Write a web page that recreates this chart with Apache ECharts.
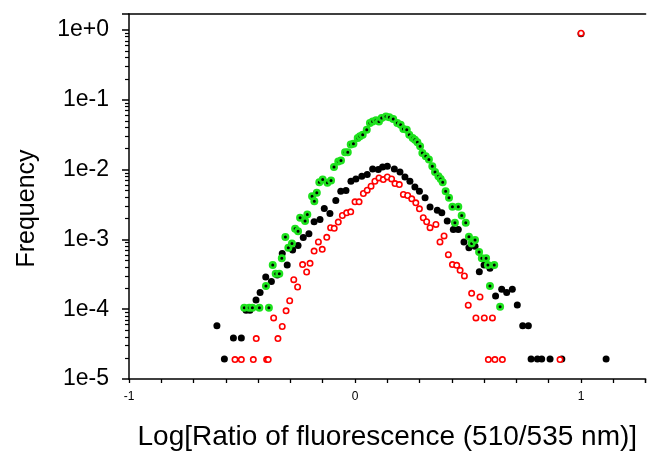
<!DOCTYPE html>
<html>
<head>
<meta charset="utf-8">
<script src="https://cdn.jsdelivr.net/npm/echarts@6/dist/echarts.min.js"></script>
<style>html,body{margin:0;padding:0;background:#fff;}#c{width:648px;height:454px;}</style>
</head>
<body>
<div id="c"></div>
<script>
// ---- data (x = log ratio, y = frequency) ----
const blackX = [-0.611,-0.578,-0.538,-0.503,-0.482,-0.465,-0.438,-0.420,-0.395,-0.370,-0.344,-0.322,-0.300,-0.276,-0.252,-0.229,-0.204,-0.181,-0.155,-0.136,-0.111,-0.085,-0.063,-0.040,-0.018,0.004,0.030,0.054,0.078,0.103,0.122,0.143,0.174,0.199,0.221,0.243,0.265,0.285,0.310,0.332,0.364,0.384,0.408,0.435,0.457,0.482,0.504,0.531,0.550,0.571,0.597,0.622,0.649,0.671,0.696,0.718,0.742,0.767,0.779,0.807,0.826,0.863,0.915,1.000,1.111];
const blackY = [5.8e-5,1.93e-5,3.86e-5,3.86e-5,9.65e-5,9.65e-5,1.35e-4,1.73e-4,2.9e-4,2.5e-4,3.1e-4,6.3e-4,4.3e-4,7.05e-4,8.2e-4,1.06e-3,1.2e-3,1.79e-3,1.93e-3,2.77e-3,2.35e-3,3.6e-3,4.9e-3,5.0e-3,6.8e-3,7.35e-3,8.0e-3,8.5e-3,1.02e-2,1.0e-2,1.09e-2,1.12e-2,1.02e-2,9.2e-3,7.85e-3,6.8e-3,5.65e-3,4.9e-3,3.94e-3,2.9e-3,2.62e-3,2.4e-3,1.83e-3,1.39e-3,1.39e-3,9.2e-4,7.6e-4,8.0e-4,3.45e-4,4.3e-4,3.85e-4,1.55e-4,1.93e-4,1.73e-4,1.93e-4,1.15e-4,5.8e-5,5.8e-5,1.93e-5,1.93e-5,1.93e-5,1.93e-5,1.93e-5,0.88,1.93e-5];

const greenX = [-0.490,-0.468,-0.454,-0.423,-0.394,-0.381,-0.364,-0.351,-0.335,-0.324,-0.308,-0.295,-0.279,-0.265,-0.252,-0.243,-0.221,-0.211,-0.190,-0.180,-0.169,-0.158,-0.143,-0.122,-0.106,-0.093,-0.074,-0.062,-0.044,-0.032,-0.019,-0.007,0.012,0.022,0.034,0.052,0.066,0.078,0.093,0.106,0.118,0.137,0.152,0.169,0.187,0.202,0.214,0.229,0.240,0.255,0.265,0.276,0.288,0.298,0.313,0.327,0.342,0.354,0.369,0.379,0.388,0.401,0.416,0.431,0.442,0.457,0.472,0.490,0.504,0.516,0.531,0.549,0.561,0.580,0.588,0.597,0.616,0.642];
const greenY = [1.05e-4,1.05e-4,1.05e-4,1.05e-4,2.15e-4,1.05e-4,4.3e-4,3.23e-4,3.23e-4,5.35e-4,1.08e-3,7.6e-4,8.7e-4,1.42e-3,1.31e-3,2.04e-3,1.83e-3,2.28e-3,4.15e-3,3.53e-3,4.64e-3,6.6e-3,7.2e-3,6.45e-3,6.97e-3,1.09e-2,1.3e-2,1.35e-2,1.77e-2,1.77e-2,2.28e-2,2.35e-2,2.83e-2,2.99e-2,3.16e-2,3.73e-2,4.64e-2,4.9e-2,5.07e-2,4.9e-2,5.47e-2,5.78e-2,5.6e-2,5.3e-2,4.64e-2,4.4e-2,3.81e-2,3.73e-2,3.16e-2,2.83e-2,2.68e-2,2.46e-2,2.15e-2,1.73e-2,1.55e-2,1.39e-2,1.12e-2,9.2e-3,8.0e-3,7.35e-3,6.6e-3,4.9e-3,3.94e-3,2.93e-3,1.73e-3,2.93e-3,2.2e-3,1.73e-3,1.09e-3,8.7e-4,9.77e-4,6.6e-4,5.35e-4,5.35e-4,4.3e-4,2.15e-4,4.3e-4,1.08e-4];

const redX = [-0.531,-0.503,-0.450,-0.437,-0.391,-0.384,-0.360,-0.341,-0.322,-0.305,-0.289,-0.271,-0.254,-0.232,-0.214,-0.199,-0.181,-0.162,-0.145,-0.125,-0.108,-0.092,-0.074,-0.056,-0.037,-0.019,0.000,0.018,0.037,0.054,0.071,0.088,0.106,0.125,0.143,0.162,0.177,0.196,0.214,0.233,0.251,0.269,0.285,0.302,0.317,0.332,0.358,0.376,0.394,0.413,0.431,0.450,0.465,0.484,0.501,0.516,0.535,0.553,0.572,0.590,0.608,0.619,0.652,0.907,1.000];
const redY = [1.9e-5,1.9e-5,1.9e-5,3.8e-5,1.9e-5,1.9e-5,7.5e-5,3.8e-5,5.65e-5,9.46e-5,1.32e-4,2.65e-4,2.08e-4,4.35e-4,3.41e-4,4.54e-4,6.8e-4,9.2e-4,7.2e-4,1.07e-3,1.47e-3,1.44e-3,1.77e-3,2.2e-3,2.4e-3,2.48e-3,3.45e-3,3.45e-3,4.54e-3,5.07e-3,5.78e-3,6.8e-3,7.6e-3,7.2e-3,7.85e-3,7.35e-3,6.3e-3,6.1e-3,4.4e-3,4.25e-3,3.81e-3,3.34e-3,2.74e-3,2.04e-3,1.79e-3,1.47e-3,1.64e-3,9.2e-4,1.12e-3,6.04e-4,4.35e-4,4.25e-4,3.6e-4,3.0e-4,1.14e-4,1.69e-4,7.5e-5,1.5e-4,7.5e-5,1.9e-5,7.5e-5,1.9e-5,1.9e-5,1.9e-5,0.9];

// ---- axes ----
const xTickLabels = ['-1', '0', '1'];
const yTickLabels = ['1e-5', '1e-4', '1e-3', '1e-2', '1e-1', '1e+0'];
const xMin = -1, xMax = 1 + 2 / 7, xStep = 1 / 7;
const yMin = 1e-5, yMax = Math.pow(10, 16 / 70);
const yLogMin = -5, yLogMax = Math.log10(yMax);
const yMinorTicks = [];
for (let e = -5; e < 1; e++) for (let k = 2; k <= 9; k++) {
  const v = e + Math.log10(k);
  if (v <= yLogMax) yMinorTicks.push(v);
}

const FONT = 'Liberation Sans, Arial, Helvetica, sans-serif';
const zip = (xs, ys) => xs.map((x, i) => [x, ys[i]]);
const GRID = {left: 129, top: 14, right: 2.4, bottom: 75};

const chart = echarts.init(document.getElementById('c'), null, {renderer: 'canvas'});
chart.setOption({
  animation: false,
  backgroundColor: '#fff',
  textStyle: {fontFamily: FONT},
  grid: Object.assign({containLabel: false, outerBoundsMode: 'none'}, GRID),
  xAxis: [{
    type: 'value', min: xMin, max: xMax, interval: xStep, position: 'bottom',
    axisLine: {onZero: false, lineStyle: {color: '#000', width: 1.5}},
    axisTick: {length: 4, lineStyle: {color: '#000', width: 1.3}},
    splitLine: {show: false},
    axisLabel: {
      fontSize: 12, margin: 12, color: '#000', fontFamily: FONT,
      formatter: v => {
        const r = Math.round(v);
        if (Math.abs(v - r) > 1e-6) return '';
        const s = String(r);
        return xTickLabels.indexOf(s) >= 0 ? s : '';
      }
    },
    name: 'Log[Ratio of fluorescence (510/535 nm)]',
    nameLocation: 'middle', nameGap: 44,
    nameTextStyle: {fontSize: 28, color: '#000', fontFamily: FONT}
  }, {
    type: 'value', min: xMin, max: xMax, position: 'top',
    axisLine: {show: true, onZero: false, lineStyle: {color: '#000', width: 1.5}},
    axisTick: {show: false}, axisLabel: {show: false}, splitLine: {show: false}
  }],
  yAxis: [{
    type: 'log', logBase: 10, min: yMin, max: yMax, position: 'left',
    axisLine: {show: true, onZero: false, lineStyle: {color: '#000', width: 1.5}},
    axisTick: {show: false},
    splitLine: {show: false},
    axisLabel: {
      fontSize: 23, margin: 20, color: '#000', fontFamily: FONT,
      formatter: v => {
        const l = Math.log10(v), n = Math.round(l);
        if (Math.abs(l - n) > 1e-6) return '';
        const s = '1e' + (n >= 0 ? '+' : '') + n;
        return yTickLabels.indexOf(s) >= 0 ? s : '';
      }
    },
    name: 'Frequency', nameLocation: 'middle', nameGap: 89,
    nameTextStyle: {fontSize: 25, color: '#000', fontFamily: FONT, padding: [0, 24, 0, 0]}
  }, {
    // decade ticks (log10 space)
    type: 'value', min: yLogMin, max: yLogMax, interval: 1, position: 'left',
    axisLine: {show: false, onZero: false}, axisLabel: {show: false}, splitLine: {show: false},
    axisTick: {show: true, length: 7, lineStyle: {color: '#000', width: 1.5}}
  }, {
    // minor ticks 2..9 per decade (log10 space)
    type: 'value', min: yLogMin, max: yLogMax, position: 'left',
    axisLine: {show: false, onZero: false}, axisLabel: {show: false}, splitLine: {show: false},
    axisTick: {show: true, length: 4, customValues: yMinorTicks, lineStyle: {color: '#000', width: 1.2}}
  }],
  series: [{
    name: 'black', type: 'scatter', xAxisIndex: 0, yAxisIndex: 0, z: 2,
    symbol: 'circle', symbolSize: 7, silent: true,
    itemStyle: {color: '#000', opacity: 1},
    data: zip(blackX, blackY)
  }, {
    name: 'green', type: 'scatter', xAxisIndex: 0, yAxisIndex: 0, z: 3,
    symbol: 'circle', symbolSize: 5.5, silent: true,
    itemStyle: {color: '#000', borderColor: '#1ee21e', borderWidth: 2.5, opacity: 1},
    data: zip(greenX, greenY)
  }, {
    name: 'red', type: 'scatter', xAxisIndex: 0, yAxisIndex: 0, z: 4,
    symbol: 'circle', symbolSize: 5.4, silent: true,
    itemStyle: {color: '#fff', borderColor: '#ff0000', borderWidth: 1.6, opacity: 1},
    data: zip(redX, redY)
  }]
});
</script>
</body>
</html>
